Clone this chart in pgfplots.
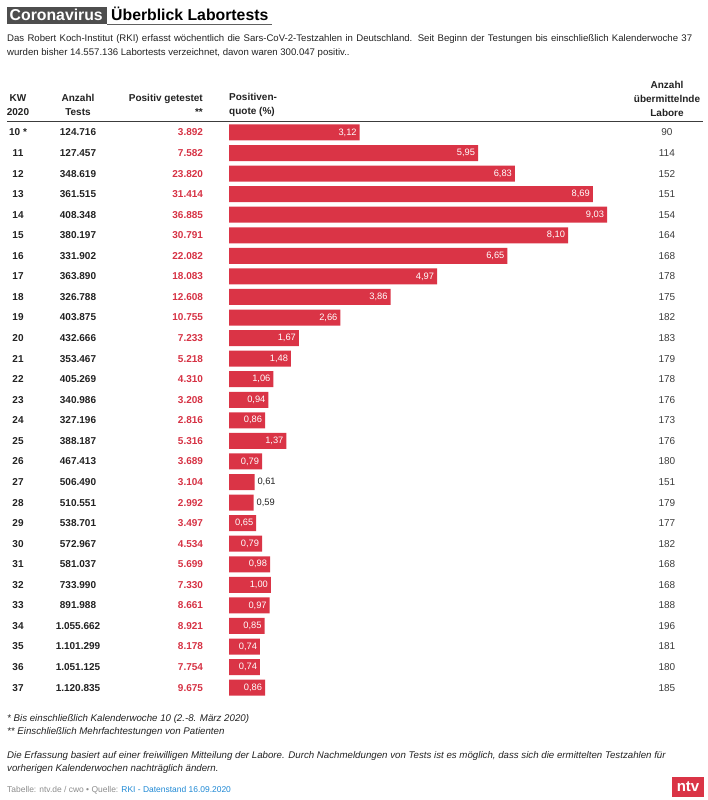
\documentclass[border=0pt]{standalone}
\usepackage{fontspec}
\setmainfont{Liberation Sans}
\usepackage{pgfplots}
\usepackage{pgfplotstable}
\pgfplotsset{compat=1.18}
\definecolor{ntvred}{RGB}{218,52,70}
\definecolor{txtred}{RGB}{214,50,68}
\definecolor{textdark}{RGB}{34,34,34}
\definecolor{textgray}{RGB}{60,60,60}
\definecolor{boxgray}{RGB}{78,78,78}
\definecolor{srcgray}{RGB}{140,140,140}
\definecolor{srcblue}{RGB}{30,136,212}

\pgfplotstableread[col sep=semicolon]{
kw;tests;pos;quote;lab;labore
10 *;124.716;3.892;3.12;3,12;90
11;127.457;7.582;5.95;5,95;114
12;348.619;23.820;6.83;6,83;152
13;361.515;31.414;8.69;8,69;151
14;408.348;36.885;9.03;9,03;154
15;380.197;30.791;8.10;8,10;164
16;331.902;22.082;6.65;6,65;168
17;363.890;18.083;4.97;4,97;178
18;326.788;12.608;3.86;3,86;175
19;403.875;10.755;2.66;2,66;182
20;432.666;7.233;1.67;1,67;183
21;353.467;5.218;1.48;1,48;179
22;405.269;4.310;1.06;1,06;178
23;340.986;3.208;0.94;0,94;176
24;327.196;2.816;0.86;0,86;173
25;388.187;5.316;1.37;1,37;176
26;467.413;3.689;0.79;0,79;180
27;506.490;3.104;0.61;0,61;151
28;510.551;2.992;0.59;0,59;179
29;538.701;3.497;0.65;0,65;177
30;572.967;4.534;0.79;0,79;182
31;581.037;5.699;0.98;0,98;168
32;733.990;7.330;1.00;1,00;168
33;891.988;8.661;0.97;0,97;188
34;1.055.662;8.921;0.85;0,85;196
35;1.101.299;8.178;0.74;0,74;181
36;1.051.125;7.754;0.74;0,74;180
37;1.120.835;9.675;0.86;0,86;185
}\data

\newcommand{\rowfont}{\fontsize{10}{12}\selectfont}
\newcommand{\hdfont}{\bfseries\fontsize{10}{14}\selectfont}

\begin{document}
\begin{tikzpicture}
\path[use as bounding box] (0,0) rectangle (707pt,-800pt);

% title
\fill[boxgray] (7pt,-7pt) rectangle (107pt,-24.5pt);
\draw[boxgray!90, line width=1pt] (107pt,-24.5pt) -- (272pt,-24.5pt);
\node[anchor=base west, inner sep=0pt, text=white, font=\bfseries\fontsize{15.8}{18}\selectfont] at (9.5pt,-21pt) {Coronavirus};
\node[anchor=base west, inner sep=0pt, text=black, font=\bfseries\fontsize{15.8}{18}\selectfont] at (111pt,-21pt) {Überblick Labortests};

% subtitle
\node[anchor=base west, inner sep=0pt, text=textdark, font=\fontsize{9.6}{11}\selectfont] at (7pt,-41.5pt) {\makebox[685pt][s]{Das Robert Koch-Institut (RKI) erfasst wöchentlich die Sars-CoV-2-Testzahlen in Deutschland. Seit Beginn der Testungen bis einschließlich Kalenderwoche 37}};
\node[anchor=base west, inner sep=0pt, text=textdark, font=\fontsize{9.6}{11}\selectfont] at (7pt,-55.5pt) {wurden bisher 14.557.136 Labortests verzeichnet, davon waren 300.047 positiv..};

% column headers
\node[align=center, inner sep=0pt, text=textdark, font=\hdfont] at (18pt,-105pt) {KW\\2020};
\node[align=center, inner sep=0pt, text=textdark, font=\hdfont] at (78pt,-105pt) {Anzahl\\Tests};
\node[anchor=east, align=right, inner sep=0pt, text=textdark, font=\hdfont] at (203pt,-105pt) {Positiv getestet\\**};
\node[anchor=west, align=left, inner sep=0pt, text=textdark, font=\hdfont] at (229pt,-105pt) {Positiven-\\quote (\%)};
\node[align=center, inner sep=0pt, text=textdark, font=\hdfont] at (667pt,-98.5pt) {Anzahl\\übermittelnde\\Labore};
\draw[textgray, line width=1pt] (7pt,-121pt) -- (703pt,-121pt);

\begin{axis}[at={(229pt,-122.2pt)}, anchor=north west, scale only axis,
  width=418.6pt, height=575.7pt, xmin=0, xmax=10, ymin=-0.5, ymax=27.5,
  y dir=reverse, axis lines=none, clip=false]
\addplot[xbar, bar width=16pt, fill=ntvred, draw=none] table[x=quote, y expr=\coordindex] {\data};
% inside labels
\addplot[draw=none, mark=none, point meta=explicit symbolic,
  restrict x to domain=0.62:100,
  nodes near coords={\makebox[0pt][r]{\pgfplotspointmeta\hspace{3pt}}},
  every node near coord/.append style={anchor=center, inner sep=0pt, text=white, font=\fontsize{9.3}{11}\selectfont}]
  table[x=quote, y expr=\coordindex, meta=lab] {\data};
% outside labels
\addplot[draw=none, mark=none, point meta=explicit symbolic,
  restrict x to domain=0:0.62,
  nodes near coords={\makebox[0pt][l]{\hspace{3pt}\pgfplotspointmeta}},
  every node near coord/.append style={anchor=center, inner sep=0pt, text=textdark, font=\fontsize{9.3}{11}\selectfont}]
  table[x=quote, y expr=\coordindex, meta=lab] {\data};
% KW column
\addplot[draw=none, mark=none, point meta=explicit symbolic,
  nodes near coords={\makebox[0pt][c]{\pgfplotspointmeta}},
  every node near coord/.append style={anchor=center, inner sep=0pt, text=textdark, font=\bfseries\rowfont}]
  table[x expr=-5.04, y expr=\coordindex, meta=kw] {\data};
% tests column
\addplot[draw=none, mark=none, point meta=explicit symbolic,
  nodes near coords={\makebox[0pt][c]{\pgfplotspointmeta}},
  every node near coord/.append style={anchor=center, inner sep=0pt, text=textdark, font=\bfseries\rowfont}]
  table[x expr=-3.607, y expr=\coordindex, meta=tests] {\data};
% positive column
\addplot[draw=none, mark=none, point meta=explicit symbolic,
  nodes near coords={\makebox[0pt][r]{\pgfplotspointmeta}},
  every node near coord/.append style={anchor=center, inner sep=0pt, text=txtred, font=\bfseries\rowfont}]
  table[x expr=-0.621, y expr=\coordindex, meta=pos] {\data};
% labore column
\addplot[draw=none, mark=none, point meta=explicit symbolic,
  nodes near coords={\makebox[0pt][c]{\pgfplotspointmeta}},
  every node near coord/.append style={anchor=center, inner sep=0pt, text=textgray, font=\rowfont}]
  table[x expr=10.46, y expr=\coordindex, meta=labore] {\data};
\end{axis}

% footnotes
\node[anchor=base west, inner sep=0pt, text=textdark, font=\itshape\fontsize{9.7}{11}\selectfont] at (7pt,-721.5pt) {* Bis einschließlich Kalenderwoche 10 (2.-8. März 2020)};
\node[anchor=base west, inner sep=0pt, text=textdark, font=\itshape\fontsize{9.7}{11}\selectfont] at (7pt,-734.5pt) {** Einschließlich Mehrfachtestungen von Patienten};
\node[anchor=base west, inner sep=0pt, text=textdark, font=\itshape\fontsize{9.7}{11}\selectfont] at (7pt,-758.5pt) {Die Erfassung basiert auf einer freiwilligen Mitteilung der Labore. Durch Nachmeldungen von Tests ist es möglich, dass sich die ermittelten Testzahlen für};
\node[anchor=base west, inner sep=0pt, text=textdark, font=\itshape\fontsize{9.7}{11}\selectfont] at (7pt,-771.5pt) {vorherigen Kalenderwochen nachträglich ändern.};
\node[anchor=base west, inner sep=0pt, font=\fontsize{8.45}{10}\selectfont] at (7pt,-792pt) {\textcolor{srcgray}{Tabelle: ntv.de / cwo • Quelle: }\textcolor{srcblue}{RKI - Datenstand 16.09.2020}};

% ntv logo
\fill[ntvred] (672pt,-777pt) rectangle (704pt,-797pt);
\node[inner sep=0pt, text=white, font=\bfseries\fontsize{15}{16}\selectfont] at (688pt,-787pt) {ntv};
\end{tikzpicture}
\end{document}
